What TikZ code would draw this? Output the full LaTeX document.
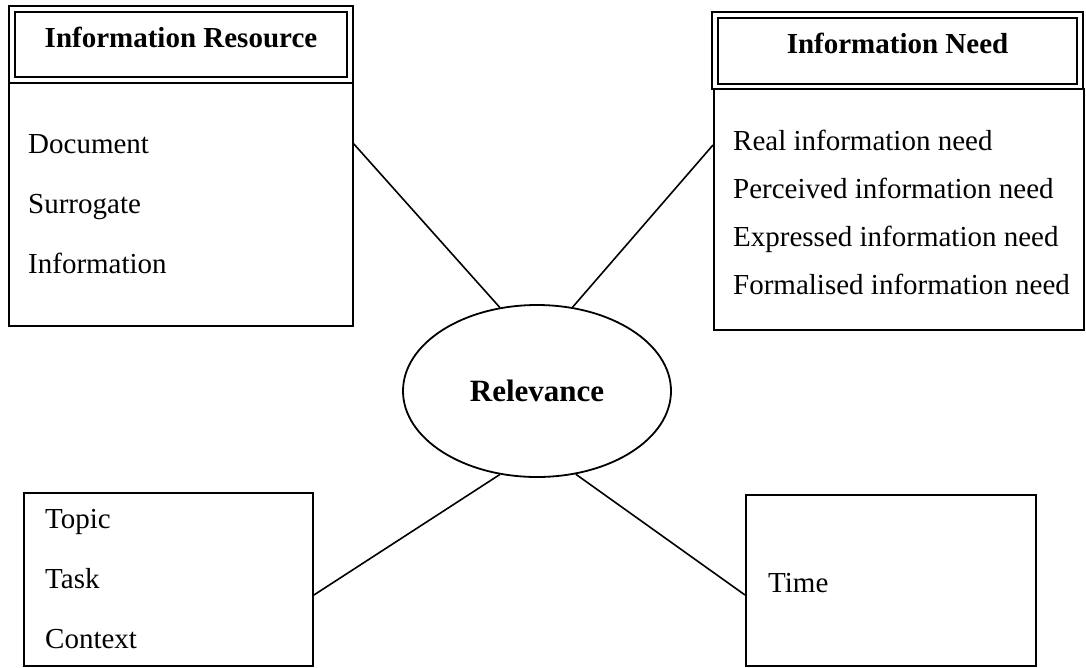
\documentclass[tikz,border=0pt]{standalone}
\usepackage{fontspec}
\setmainfont{Liberation Serif}
\usetikzlibrary{shapes.geometric}
\tikzset{
 titlebox/.style={draw,double,double distance=3.8pt,line width=1.7pt,inner sep=0,font=\bfseries\fontsize{29}{35}\selectfont,text height=20pt,text depth=14pt},
 listbox/.style={draw,line width=1.9pt,inner sep=0,anchor=north west},
 hub/.style={ellipse,draw,line width=1.8pt,inner sep=0,minimum width=268pt,minimum height=172pt,font=\bfseries\fontsize{31}{37}\selectfont},
 entry/.style={anchor=base west,inner sep=0,font=\fontsize{29}{35}\selectfont},
 link/.style={line width=1.6pt}
}
\begin{document}
\begin{tikzpicture}[x=1pt,y=-1pt]
\path[use as bounding box] (0,0) rectangle (1086,667);
% resource side
\node[listbox,minimum width=344pt,minimum height=243pt] (resbody) at (8,82) {};
\node[titlebox,minimum width=338pt,minimum height=71pt] (restitle) at (181,44.5) {Information Resource};
\node[entry] (doc) at (28,153) {Document};
\node[entry] (surr) at (28,213) {Surrogate};
\node[entry] (info) at (28,273) {Information};
% need side
\node[listbox,minimum width=370pt,minimum height=241pt] (needbody) at (713,88) {};
\node[titlebox,minimum width=365pt,minimum height=71.5pt] (needtitle) at (897.5,50.75) {Information Need};
\node[entry] (real) at (733,150) {Real information need};
\node[entry] (perc) at (733,198) {Perceived information need};
\node[entry] (expr) at (733,246) {Expressed information need};
\node[entry] (form) at (733,294) {Formalised information need};
% lower boxes
\node[listbox,minimum width=289pt,minimum height=173pt] (ctxbody) at (23,492) {};
\node[entry] (topic) at (45,528) {Topic};
\node[entry] (task) at (45,588) {Task};
\node[entry] (ctx) at (45,648) {Context};
\node[listbox,minimum width=290pt,minimum height=171pt] (timebody) at (745,494) {};
\node[entry] (time) at (768,592) {Time};
% centre
\node[hub] (rel) at (537,391) {Relevance};
\draw[link] ([yshift=-62pt]resbody.north east) -- (rel.114);
\draw[link] ([yshift=-57pt]needbody.north west) -- (rel.67);
\draw[link] ([yshift=-103pt]ctxbody.north east) -- (rel.246);
\draw[link] ([yshift=-101pt]timebody.north west) -- (rel.295);
\end{tikzpicture}
\end{document}
